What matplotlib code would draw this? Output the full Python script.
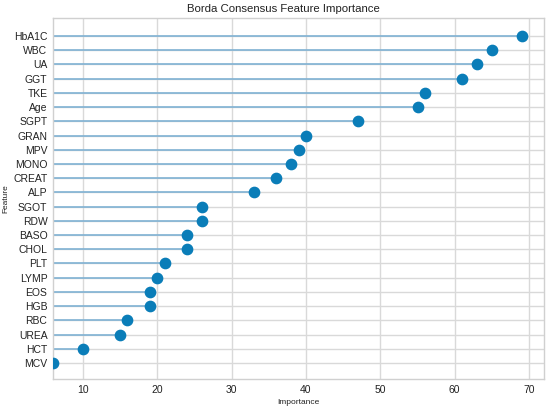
import matplotlib.pyplot as plt

features = ["HbA1C", "WBC", "UA", "GGT", "TKE", "Age", "SGPT", "GRAN", "MPV", "MONO",
            "CREAT", "ALP", "SGOT", "RDW", "BASO", "CHOL", "PLT", "LYMP", "EOS", "HGB",
            "RBC", "UREA", "HCT", "MCV"]
importance = [69, 65, 63, 61, 56, 55, 47, 40, 39, 38,
              36, 33, 26, 26, 24, 24, 21, 20, 19, 19,
              16, 15, 10, 6]

plt.rcParams["font.family"] = ["Liberation Sans", "DejaVu Sans"]

# bottom-up order so HbA1C is at the top
feats = features[::-1]
vals = importance[::-1]
ypos = list(range(len(feats)))

fig = plt.figure(figsize=(5.5, 4.09), dpi=100)
ax = fig.add_axes([53 / 550, 1 - 379 / 409, 491 / 550, 361 / 409])

xmin = min(vals)
ax.hlines(ypos, xmin, vals, color="#7fb2d4", linewidth=1.2, zorder=2)
ax.scatter(vals, ypos, s=55, color="#0a7db8", zorder=3, clip_on=True)

ax.set_xlim(6, 72)
ax.set_ylim(-1.13, 24.27)
ax.set_yticks(ypos)
ax.set_yticklabels(feats)
ax.set_xticks([10, 20, 30, 40, 50, 60, 70])

ax.grid(True, color="#d9d9d9", linewidth=1.0, zorder=0)
ax.set_axisbelow(True)
for s in ax.spines.values():
    s.set_color("#d0d0d0")
    s.set_linewidth(1.0)
ax.tick_params(length=0, labelsize=7.5, colors="#222222", pad=4)

ax.set_title("Borda Consensus Feature Importance", fontsize=8.2, color="#222222",
             x=0.47, pad=4)
ax.set_xlabel("Importance", fontsize=6, color="#222222", labelpad=3)
ax.set_ylabel("Feature", fontsize=6, color="#222222", labelpad=3)

fig.savefig("out.png", dpi=100)
